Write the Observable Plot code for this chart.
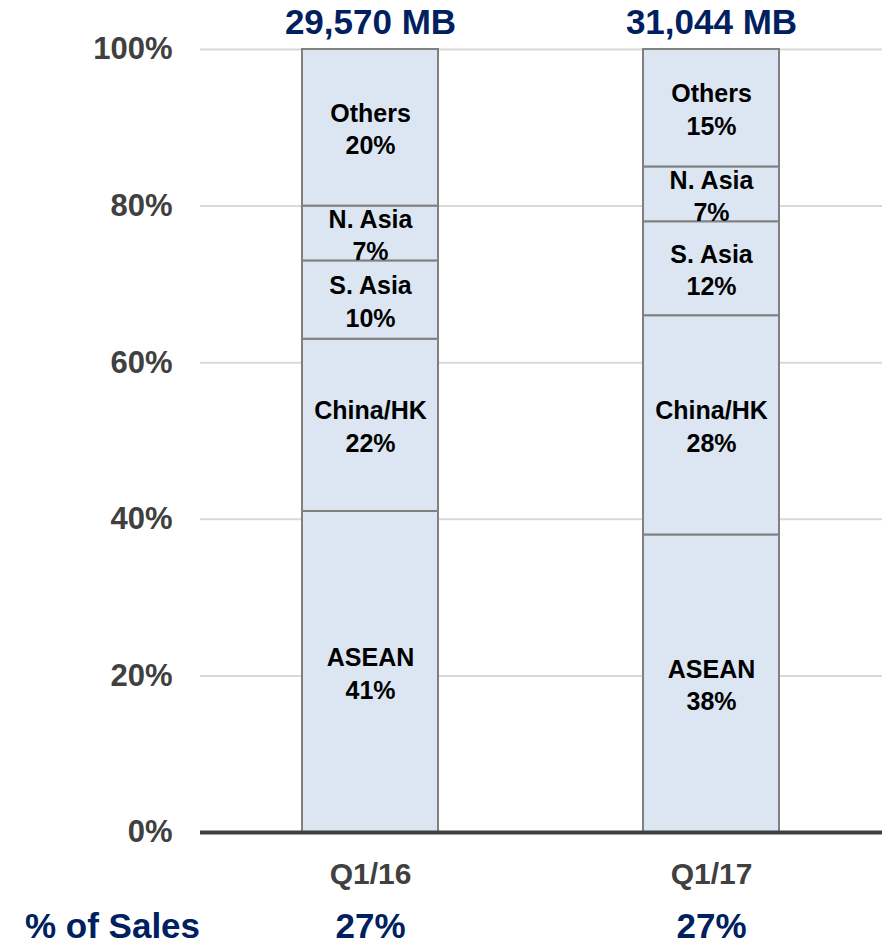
<!DOCTYPE html>
<html>
<head>
<meta charset="utf-8">
<script src="https://cdn.jsdelivr.net/npm/d3@7"></script>
<script src="https://cdn.jsdelivr.net/npm/@observablehq/plot@0.6"></script>
<style>
  html, body { margin: 0; padding: 0; background: #fff; }
  #chart svg { display: block; }
</style>
</head>
<body>
<div id="chart"></div>
<script>
const quarters = ["Q1/16", "Q1/17"];
const regions = ["ASEAN", "China/HK", "S. Asia", "N. Asia", "Others"];
const shareQ116 = [41, 22, 10, 7, 20];
const shareQ117 = [38, 28, 12, 7, 15];
const totals = ["29,570 MB", "31,044 MB"];
const pctOfSales = ["27%", "27%"];
const yTicks = [0, 20, 40, 60, 80, 100];

const series = [shareQ116, shareQ117];
const data = [];
quarters.forEach((q, i) => {
  regions.forEach((r, j) => {
    data.push({quarter: q, region: r, value: series[i][j], label: r + "\n" + series[i][j] + "%"});
  });
});
const totalRows = quarters.map((q, i) => ({quarter: q, total: totals[i], top: 100, pct: pctOfSales[i]}));

const font = "'Liberation Sans', Arial, Helvetica, sans-serif";
const navy = "#002060";

const chart = Plot.plot({
  width: 882,
  height: 950,
  marginTop: 49,
  marginBottom: 118,
  marginLeft: 200,
  marginRight: 0,
  style: {fontFamily: font, fontWeight: "bold", background: "#fff", overflow: "visible"},
  x: {domain: quarters, paddingInner: 0.6, paddingOuter: 0.3, label: null},
  y: {domain: [0, 100], label: null},
  marks: [
    Plot.gridY(yTicks.filter(d => d > 0), {stroke: "#d9d9d9", strokeWidth: 2, strokeOpacity: 1}),
    Plot.barY(data, {x: "quarter", y: "value", fill: "#dce6f2", stroke: "#808080", strokeWidth: 2}),
    Plot.text(data, Plot.stackY({x: "quarter", y: "value", text: "label", fontSize: 25, fill: "#000", lineHeight: 1.3, fontWeight: "bold"})),
    Plot.ruleY([0], {stroke: "#404040", strokeWidth: 4}),
    Plot.axisY({ticks: yTicks, tickSize: 0, tickPadding: 28, tickFormat: d => d + "%", fontSize: 31, fill: "#404040", fontWeight: "bold"}),
    Plot.axisX({tickSize: 0, tickPadding: 30, fontSize: 30, fill: "#404040", fontWeight: "bold"}),
    Plot.text(totalRows, {x: "quarter", y: "top", text: "total", dy: -27, fontSize: 35, fill: navy, fontWeight: "bold", lineAnchor: "middle"}),
    Plot.text(totalRows, {x: "quarter", frameAnchor: "bottom", text: "pct", dy: 94, fontSize: 35, fill: navy, fontWeight: "bold", lineAnchor: "middle"}),
    Plot.text(["% of Sales"], {frameAnchor: "bottom-left", text: d => d, dx: -88, dy: 94, textAnchor: "middle", fontSize: 35, fill: navy, fontWeight: "bold", lineAnchor: "middle"})
  ]
});
document.getElementById("chart").appendChild(chart);
</script>
</body>
</html>
